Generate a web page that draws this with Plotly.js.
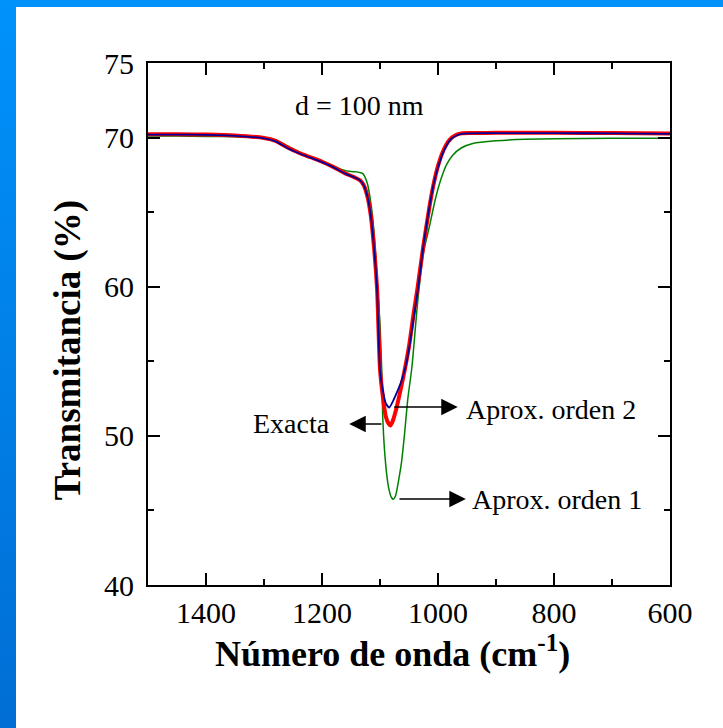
<!DOCTYPE html>
<html>
<head>
<meta charset="utf-8">
<script src="https://cdn.plot.ly/plotly-3.0.1.min.js"></script>
<style>
html,body{margin:0;padding:0;width:723px;height:728px;overflow:hidden;}
body{background:linear-gradient(to bottom,#0092FB,#006ED4);}
#chart{position:absolute;left:16px;top:7px;width:707px;height:721px;background:#fff;}
</style>
</head>
<body>
<div id="chart"></div>
<script>
// Wavenumber (cm^-1) and transmittance (%)
const xExacta = [1500,1450,1400,1350,1300,1280,1260,1240,1220,1200,1180,1160,1145,1135,1128,1122,1116,1110,1105,1100,1095,1090,1085,1082,1078,1072,1065,1058,1050,1042,1035,1025,1015,1008,1000,990,980,970,960,940,900,800,700,600];
const yExacta = [70.22,70.22,70.2,70.14,69.97,69.78,69.35,68.98,68.68,68.38,68.02,67.6,67.35,67.15,66.8,66.1,64.8,62.5,59.8,54.5,52.6,51.3,50.8,50.7,51.0,51.8,53.0,54.3,56.0,58.2,60.0,62.8,65.3,66.8,68.1,69.2,69.85,70.15,70.28,70.3,70.32,70.32,70.3,70.27];

const xOrden2 = [1500,1450,1400,1350,1300,1280,1260,1240,1220,1200,1180,1160,1145,1135,1128,1122,1116,1110,1105,1100,1095,1090,1084,1078,1070,1062,1055,1048,1040,1034,1025,1015,1008,1000,990,980,970,960,940,900,800,700,600];
const yOrden2 = [70.2,70.2,70.18,70.12,69.95,69.75,69.3,68.95,68.65,68.35,68.0,67.58,67.35,67.15,66.8,66.1,64.8,62.5,59.8,54.4,53.0,52.2,51.9,52.3,53.0,53.8,54.8,56.3,58.4,60.0,62.8,65.3,66.8,68.0,69.1,69.8,70.1,70.25,70.28,70.3,70.3,70.28,70.25];

const xOrden1 = [1500,1450,1400,1350,1300,1280,1260,1240,1220,1200,1180,1165,1150,1140,1130,1122,1115,1110,1105,1100,1097,1095,1090,1085,1080,1077,1073,1068,1063,1058,1052,1045,1035,1025,1015,1005,995,985,975,960,940,900,850,800,700,600];
const yOrden1 = [70.1,70.1,70.08,70.05,70.0,69.85,69.45,69.05,68.7,68.45,68.1,67.85,67.72,67.7,67.6,66.95,65.4,63.5,60.5,57.5,54.4,51.0,48.0,46.5,45.85,45.75,46.0,47.0,48.2,50.0,52.5,54.6,59.0,62.3,64.0,65.8,67.2,68.2,68.8,69.3,69.6,69.78,69.88,69.92,69.95,69.95];

const xTickVals = [1400,1200,1000,800,600];
const yTickVals = [40,50,60,70,75];

const serif = 'Liberation Serif, Times New Roman, serif';

const traces = [
  {x:xOrden1, y:yOrden1, mode:'lines', line:{color:'#008000', width:1.5, shape:'spline', smoothing:0.6}, name:'Aprox. orden 1'},
  {x:xExacta, y:yExacta, mode:'lines', line:{color:'#FF0000', width:4, shape:'spline', smoothing:0.6}, name:'Exacta'},
  {x:xOrden2, y:yOrden2, mode:'lines', line:{color:'#000099', width:1.8, shape:'spline', smoothing:0.6}, name:'Aprox. orden 2'}
];

const axisCommon = {
  showgrid:false, zeroline:false, showline:true, linecolor:'#000', linewidth:2,
  mirror:'ticks', ticks:'inside', ticklen:12, tickwidth:2, tickcolor:'#000',
  tickfont:{family:serif, size:30, color:'#000'}
};

const arrowStyle = {text:'', showarrow:true, arrowhead:2, arrowsize:2.2, arrowwidth:1.5, arrowcolor:'#000', axref:'x', ayref:'y'};

const layout = {
  width:707, height:721,
  margin:{l:132, r:53, t:56, b:143},
  paper_bgcolor:'#fff', plot_bgcolor:'#fff',
  showlegend:false,
  xaxis:Object.assign({}, axisCommon, {
    range:[1500,600], tickmode:'array', tickvals:xTickVals,
    minor:{dtick:100, tick0:600, ticks:'inside', ticklen:6, tickwidth:2, tickcolor:'#000'}
  }),
  yaxis:Object.assign({}, axisCommon, {
    range:[40,75], tickmode:'array', tickvals:yTickVals, ticklabelstandoff:6,
    minor:{dtick:5, tick0:40, ticks:'inside', ticklen:6, tickwidth:2, tickcolor:'#000'}
  }),
  annotations:[
    {xref:'paper', yref:'paper', x:0.469, y:-0.128, xanchor:'center', yanchor:'middle', text:'<b>Número de onda (cm<sup>-1</sup>)</b>', showarrow:false, font:{family:serif, size:36, color:'#000'}},
    {xref:'paper', yref:'paper', x:-0.153, y:0.45, xanchor:'center', yanchor:'middle', text:'<b>Transmitancia (%)</b>', textangle:-90, showarrow:false, font:{family:serif, size:37, color:'#000'}},
    {x:1135, y:72.15, text:'d = 100 nm', showarrow:false, font:{family:serif, size:28, color:'#000'}},
    {x:1253, y:50.8, text:'Exacta', showarrow:false, font:{family:serif, size:28, color:'#000'}},
    {x:956, y:51.8, xanchor:'left', text:'Aprox. orden 2', showarrow:false, font:{family:serif, size:28, color:'#000'}},
    {x:945, y:45.7, xanchor:'left', text:'Aprox. orden 1', showarrow:false, font:{family:serif, size:28, color:'#000'}},
    Object.assign({x:966, y:51.93, ax:1078, ay:51.93}, arrowStyle),
    Object.assign({x:952, y:45.77, ax:1069, ay:45.77}, arrowStyle),
    Object.assign({x:1153, y:50.8, ax:1095, ay:50.8}, arrowStyle)
  ]
};

Plotly.newPlot('chart', traces, layout, {displayModeBar:false, staticPlot:true});
</script>
</body>
</html>
